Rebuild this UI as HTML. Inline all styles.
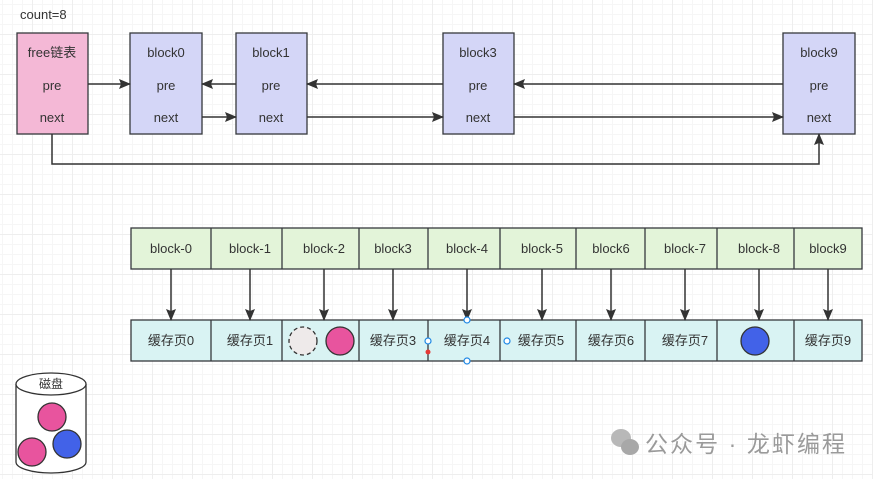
<!DOCTYPE html>
<html><head><meta charset="utf-8"><style>
body{margin:0;width:873px;height:479px;overflow:hidden;background:#fff;
background-image:linear-gradient(#eeeeee 1px,transparent 1px),linear-gradient(90deg,#eeeeee 1px,transparent 1px),linear-gradient(#f6f6f6 1px,transparent 1px),linear-gradient(90deg,#f6f6f6 1px,transparent 1px);
background-size:40px 40px,40px 40px,10px 10px,10px 10px;background-position:-8px -6px}
svg{position:absolute;left:0;top:0}
text{font-family:"Liberation Sans","Noto Sans CJK SC",sans-serif;font-size:13px;fill:#333}
</style></head><body>
<svg width="873" height="479" viewBox="0 0 873 479">
<defs><marker id="a" markerWidth="12" markerHeight="12" refX="11" refY="6" orient="auto" markerUnits="userSpaceOnUse"><path d="M0,1 L12,6 L0,11 L2,6 Z" fill="#333"/></marker></defs>
<text x="20" y="19">count=8</text>
<g stroke="#36393d" stroke-width="1.3">
<rect x="17" y="33" width="71" height="101" fill="#f4b8d6"/>
<rect x="130" y="33" width="72" height="101" fill="#d4d6f7"/>
<rect x="236" y="33" width="71" height="101" fill="#d4d6f7"/>
<rect x="443" y="33" width="71" height="101" fill="#d4d6f7"/>
<rect x="783" y="33" width="72" height="101" fill="#d4d6f7"/>
</g>
<g text-anchor="middle">
<text x="52" y="57">free链表</text><text x="52" y="90">pre</text><text x="52" y="122">next</text>
<text x="166" y="57">block0</text><text x="166" y="90">pre</text><text x="166" y="122">next</text>
<text x="271" y="57">block1</text><text x="271" y="90">pre</text><text x="271" y="122">next</text>
<text x="478" y="57">block3</text><text x="478" y="90">pre</text><text x="478" y="122">next</text>
<text x="819" y="57">block9</text><text x="819" y="90">pre</text><text x="819" y="122">next</text>
</g>
<g stroke="#333" stroke-width="1.5" fill="none">
<path d="M88 84 H130" marker-end="url(#a)"/><path d="M236 84 H202" marker-end="url(#a)"/><path d="M202 117 H236" marker-end="url(#a)"/>
<path d="M443 84 H307" marker-end="url(#a)"/><path d="M307 117 H443" marker-end="url(#a)"/><path d="M783 84 H514" marker-end="url(#a)"/><path d="M514 117 H783" marker-end="url(#a)"/>
<path d="M52 134 V164 H819 V134" marker-end="url(#a)"/>
</g>
<g stroke="#36393d" stroke-width="1.3">
<rect x="131" y="228" width="731" height="41" fill="#e3f4d9"/>
<rect x="131" y="320" width="731" height="41" fill="#d9f3f3"/>
<path d="M211 228V269M282 228V269M359 228V269M428 228V269M500 228V269M576 228V269M645 228V269M717 228V269M794 228V269"/>
<path d="M211 320V361M282 320V361M359 320V361M428 320V361M500 320V361M576 320V361M645 320V361M717 320V361M794 320V361"/>
</g>
<g text-anchor="middle">
<text x="171" y="253">block-0</text><text x="250" y="253">block-1</text><text x="324" y="253">block-2</text><text x="393" y="253">block3</text><text x="467" y="253">block-4</text><text x="542" y="253">block-5</text><text x="611" y="253">block6</text><text x="685" y="253">block-7</text><text x="759" y="253">block-8</text><text x="828" y="253">block9</text>
<text x="171" y="345">缓存页0</text><text x="250" y="345">缓存页1</text><text x="393" y="345">缓存页3</text><text x="467" y="345">缓存页4</text><text x="541" y="345">缓存页5</text><text x="611" y="345">缓存页6</text><text x="685" y="345">缓存页7</text><text x="828" y="345">缓存页9</text>
</g>
<g stroke="#333" stroke-width="1.5">
<path d="M171 269V320" marker-end="url(#a)"/><path d="M250 269V320" marker-end="url(#a)"/><path d="M324 269V320" marker-end="url(#a)"/><path d="M393 269V320" marker-end="url(#a)"/><path d="M467 269V320" marker-end="url(#a)"/><path d="M542 269V320" marker-end="url(#a)"/><path d="M611 269V320" marker-end="url(#a)"/><path d="M685 269V320" marker-end="url(#a)"/><path d="M759 269V320" marker-end="url(#a)"/><path d="M828 269V320" marker-end="url(#a)"/>
</g>
<circle cx="303" cy="341" r="14" fill="#eeeaea" stroke="#333" stroke-width="1.3" stroke-dasharray="4 3"/>
<circle cx="340" cy="341" r="14" fill="#e8549e" stroke="#333" stroke-width="1.3"/>
<circle cx="755" cy="341" r="14" fill="#4262e8" stroke="#333" stroke-width="1.3"/>
<g fill="#fff" stroke="#1e88e5" stroke-width="1.2">
<circle cx="467" cy="320" r="3"/><circle cx="467" cy="361" r="3"/><circle cx="428" cy="341" r="3"/><circle cx="507" cy="341" r="3"/>
</g>
<circle cx="428" cy="352" r="2.5" fill="#e53935"/>
<path d="M16 384 V462 A35 11 0 0 0 86 462 V384" fill="#fff" stroke="#333" stroke-width="1.3"/>
<ellipse cx="51" cy="384" rx="35" ry="11" fill="#fff" stroke="#333" stroke-width="1.3"/>
<text x="51" y="388" text-anchor="middle" style="font-size:12px">磁盘</text>
<ellipse cx="52" cy="417" rx="14" ry="14" fill="#e8549e" stroke="#333" stroke-width="1.3"/>
<ellipse cx="32" cy="452" rx="14" ry="14" fill="#e8549e" stroke="#333" stroke-width="1.3"/>
<ellipse cx="67" cy="444" rx="14" ry="14" fill="#4262e8" stroke="#333" stroke-width="1.3"/>
<g fill="#b8b8b8"><ellipse cx="621" cy="438" rx="10" ry="9"/><ellipse cx="630" cy="447" rx="9" ry="8" fill="#a8a8a8"/></g>
<text x="645" y="452" textLength="200" style="font-size:23px;fill:#9a9a9a">公众号 · 龙虾编程</text>
</svg>
</body></html>
